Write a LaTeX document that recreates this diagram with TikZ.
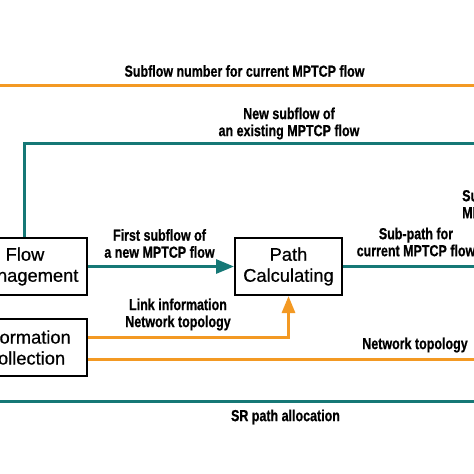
\documentclass[tikz,border=0pt]{standalone}
\usepackage{fontspec}
\setmainfont{Liberation Sans}
\newfontfamily\lblfont[FakeStretch=0.78,FakeBold=0.6]{Liberation Sans}
\newfontfamily\boxfont[FakeBold=0.6]{Liberation Sans}
\usetikzlibrary{arrows.meta}
\definecolor{tealc}{RGB}{22,120,118}
\definecolor{orangec}{RGB}{243,153,35}
\tikzset{
  box/.style={draw=black,line width=2pt,fill=white,minimum width=124pt,minimum height=57pt,align=center,inner sep=0pt,font=\boxfont\fontsize{18.3}{21}\selectfont},
  lbl/.style={align=center,inner sep=0pt,font=\lblfont\bfseries\fontsize{16}{17}\selectfont},
  tline/.style={draw=tealc,line width=3pt},
  oline/.style={draw=orangec,line width=3pt},
  tarr/.style={tline,-{Triangle[length=18pt,width=14pt]}},
  oarr/.style={oline,-{Triangle[length=17pt,width=13pt]}}
}
\begin{document}
\begin{tikzpicture}[x=1pt,y=-1pt]
\useasboundingbox (0,0) rectangle (474,474);
\clip (0,0) rectangle (474,474);
\fill[white] (0,0) rectangle (474,474);
% boxes
\node[box] (flow) at (25,266.5) {Flow\\Management};
\node[box,minimum width=107pt] (path) at (288.5,266.5) {Path\\Calculating};
\node[box] (info) at (25,347.5) {Information\\Collection};
% free-end coordinates
\coordinate (topL) at (0,85);
\coordinate (topR) at (474,85);
\coordinate (vtop) at (24,143);
\coordinate (nsR) at (474,143);
\coordinate (spR) at (474,266.5);
\coordinate (ntR) at (474,359);
\coordinate (srL) at (0,401);
\coordinate (srR) at (474,401);
% connectors
\draw[oline] (topL) -- (topR);
\draw[tline] (vtop |- flow.north) -- (vtop) -- (nsR);
\draw[tarr] (flow.east) -- (path.west);
\draw[tline] (path.east) -- (spR);
\draw[oarr] ([yshift=10.5pt]info.east) -| (path.south);
\draw[oline] ([yshift=-11.5pt]info.east) -- (ntR);
\draw[tline] (srL) -- (srR);
% labels
\node[lbl] (l1) at (244.5,71) {Subflow number for current MPTCP flow};
\node[lbl] (l2) at (289,123.5) {New subflow of\\an existing MPTCP flow};
\node[lbl] (l3) at (159.5,243.5) {First subflow of\\a new MPTCP flow};
\node[lbl] (l4) at (416,242) {Sub-path for\\current MPTCP flow};
\node[lbl,align=left,anchor=west] (l5) at (462,204) {Sub-path\\MPTCP};
\node[lbl] (l6) at (178,314.5) {Link information\\Network topology};
\node[lbl] (l7) at (415,345) {Network topology};
\node[lbl] (l8) at (285.5,417) {SR path allocation};
\end{tikzpicture}
\end{document}
